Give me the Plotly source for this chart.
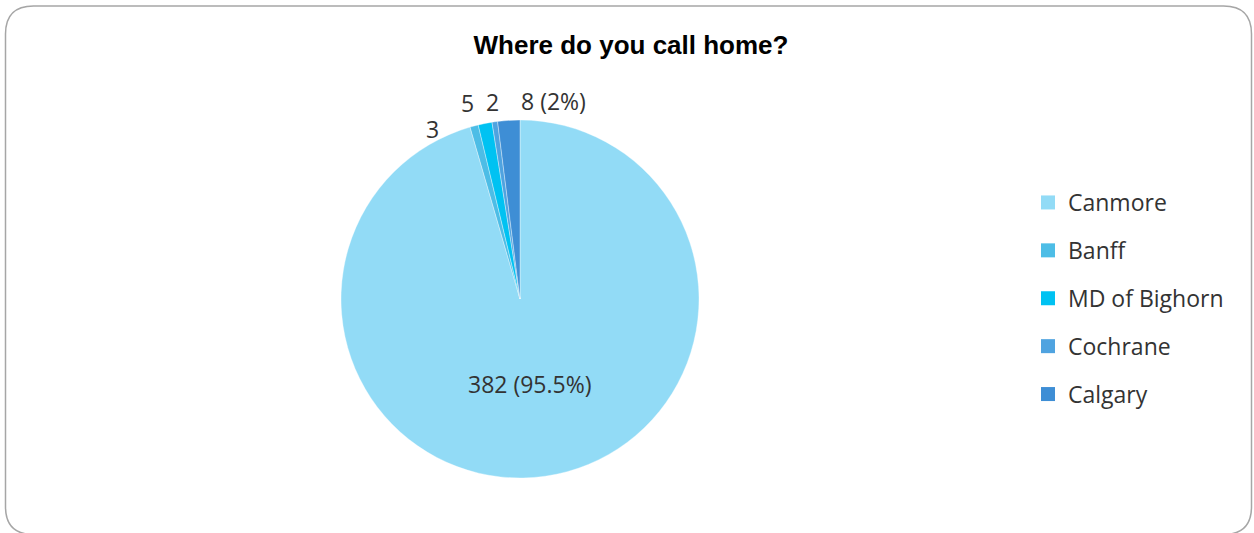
import plotly.graph_objects as go

# Survey responses: where respondents call home
places = ["Canmore", "Banff", "MD of Bighorn", "Cochrane", "Calgary"]
responses = [382, 3, 5, 2, 8]
slice_colors = ["#92DBF6", "#4DBDE6", "#00C2F2", "#4FA3E0", "#3E8ED5"]
title_text = "Where do you call home?"

W, H = 1254, 533
total = sum(responses)

# Value labels: share shown for Canmore and Calgary, counts only for the rest
labels_txt = []
for name, v in zip(places, responses):
    if name in ("Canmore", "Calgary"):
        labels_txt.append(f"{v} ({v / total * 100:g}%)")
    else:
        labels_txt.append(f"{v}")

label_font = dict(family="Open Sans", size=23, color="#333333")

fig = go.Figure()

# pie placement (pixels)
cx, cy, r = 520, 299, 179
fig.add_trace(go.Pie(
    labels=places,
    values=responses,
    textinfo="none",
    sort=False,
    direction="clockwise",
    rotation=0,
    marker=dict(colors=slice_colors, line=dict(color="rgba(255,255,255,0.6)", width=0.6)),
    domain=dict(x=[(cx - r) / W, (cx + r) / W], y=[(H - cy - r) / H, (H - cy + r) / H]),
    showlegend=False,
    hoverinfo="label+value+percent",
))

# data labels: the large slice inside, the thin slices just above the rim
label_pos = {"Canmore": (530, 384), "Banff": (432, 129), "MD of Bighorn": (467, 103),
             "Cochrane": (492, 102), "Calgary": (553, 101)}
for name, txt in zip(places, labels_txt):
    x, y = label_pos[name]
    fig.add_annotation(x=x / W, y=1 - y / H, xref="paper", yref="paper",
                       text=txt, showarrow=False, xanchor="center", yanchor="middle",
                       font=label_font)

# Legend entries as separate groups so the spacing between them can be set
for i, (name, col) in enumerate(zip(places, slice_colors)):
    fig.add_trace(go.Scatter(
        x=[None], y=[None], mode="markers", name=name,
        marker=dict(symbol="square", size=14, color=col),
        legendgroup=f"g{i}", showlegend=True,
    ))

# rounded frame around the chart
x0, y0, x1, y1, rad = 5.5, 6, 1251.5, 534.5, 28
def px(x):
    return x / W
def py(y):
    return 1 - y / H
path = (
    f"M {px(x0 + rad)},{py(y0)} L {px(x1 - rad)},{py(y0)} "
    f"Q {px(x1)},{py(y0)} {px(x1)},{py(y0 + rad)} "
    f"L {px(x1)},{py(y1 - rad)} Q {px(x1)},{py(y1)} {px(x1 - rad)},{py(y1)} "
    f"L {px(x0 + rad)},{py(y1)} Q {px(x0)},{py(y1)} {px(x0)},{py(y1 - rad)} "
    f"L {px(x0)},{py(y0 + rad)} Q {px(x0)},{py(y0)} {px(x0 + rad)},{py(y0)} Z"
)
fig.add_shape(type="path", path=path, xref="paper", yref="paper",
              line=dict(color="#A6A6A6", width=1.5), fillcolor="rgba(0,0,0,0)", layer="below")

fig.update_layout(
    width=W, height=H,
    margin=dict(l=0, r=0, t=0, b=0, autoexpand=False),
    paper_bgcolor="white", plot_bgcolor="white",
    title=dict(text=f"<b>{title_text}</b>", x=631 / W, xanchor="center",
               y=1 - 45 / H, yanchor="middle",
               font=dict(family="Liberation Sans, Arial", size=26, color="#000000")),
    xaxis=dict(visible=False), yaxis=dict(visible=False),
    legend=dict(x=1028 / W, xanchor="left", y=1 - 181 / H, yanchor="top",
                font=dict(family="Open Sans", size=23, color="#333333"),
                tracegroupgap=15, bgcolor="rgba(0,0,0,0)"),
)

fig.write_html("out.html")
